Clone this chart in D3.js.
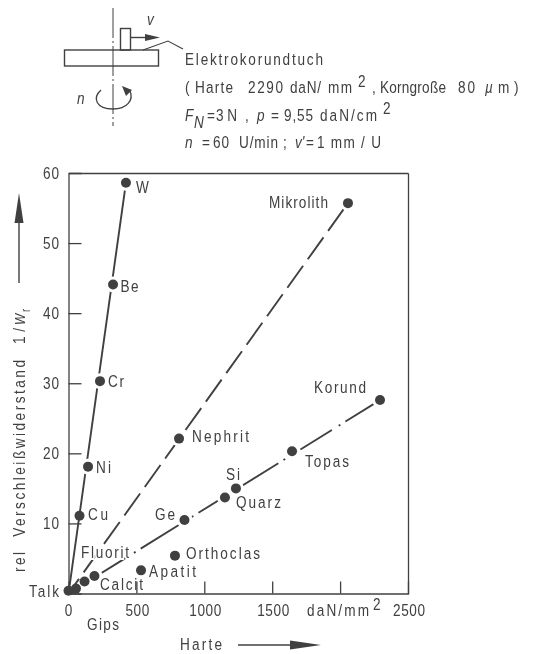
<!DOCTYPE html>
<html><head><meta charset="utf-8">
<script src="https://cdnjs.cloudflare.com/ajax/libs/d3/7.8.5/d3.min.js"></script>
<style>
html,body{margin:0;background:#fff}
svg{display:block}
text{font-family:"Liberation Sans",sans-serif;fill:#404040;font-size:17px}
.it{font-style:italic}
</style></head><body>
<div id="c"></div>
<script>
// Data
const metalNames = ["W","Be","Cr","Ni","Cu"];
const metalHardness = [423,328,232,144,81];
const metalResistance = [58.6,44.1,30.3,18.1,11.1];

const glassNames = ["Mikrolith","Nephrit"];
const glassHardness = [2058,814];
const glassResistance = [55.7,22.1];

const mineralNames = ["Talk","Gips","Fluorit","Calcit","Apatit","Orthoclas","Ge","Si","Quarz","Topas","Korund"];
const mineralHardness = [0,55,118,191,534,784,854,1152,1233,1646,2294];
const mineralResistance = [0.4,0.7,1.7,2.5,3.3,5.4,10.5,13.7,15,20.3,27.6];

const xTicks = [0,500,1000,1500,2000,2500];
const yTicks = [10,20,30,40,50,60];

const W = 537, H = 654, SX = 0.8;
const svg = d3.select("#c").append("svg").attr("width",W).attr("height",H);
svg.append("defs").append("filter").attr("id","soft").attr("x",0).attr("y",0).attr("width",1).attr("height",1)
  .append("feGaussianBlur").attr("stdDeviation",0.55);
const root = svg.append("g").attr("filter","url(#soft)");
root.append("rect").attr("width",W).attr("height",H).attr("fill","#fff");

const x = d3.scaleLinear().domain([0,2500]).range([68.5,408]);
const y = d3.scaleLinear().domain([0,60]).range([593.5,173]);
const ink = "#404040";

// narrow lettering: squeezed glyphs, stretched to the measured width
function label(px,py,str,width,o={}){
  const t = root.append("text")
    .attr("transform",`translate(${px},${py}) ${o.rot?`rotate(${o.rot}) `:""}scale(${SX},1)`)
    .attr("text-anchor",o.anchor||"start").text(str).attr("xml:space","preserve");
  if(width) t.attr("textLength",width/SX).attr("lengthAdjust","spacing");
  if(o.it) t.attr("class","it");
  if(o.size) t.style("font-size",o.size+"px");
  if(o.halo) t.attr("stroke","#fff").attr("stroke-width",4).attr("paint-order","stroke");
  return t;
}

// frame and axes
root.append("g").attr("transform",`translate(0,${y(0)})`)
  .call(d3.axisBottom(x).tickValues(xTicks.slice(1,-1)).tickSize(-12).tickFormat(""));
root.append("g").attr("transform",`translate(${x(0)},0)`)
  .call(d3.axisLeft(y).tickValues(yTicks.slice(0,-1)).tickSize(-13).tickFormat(""));
root.append("g").attr("transform",`translate(0,${y(60)})`).call(d3.axisTop(x).tickValues([]).tickSize(0));
root.append("g").attr("transform",`translate(${x(2500)},0)`).call(d3.axisRight(y).tickValues([]).tickSize(0));
root.selectAll(".domain,.tick line").attr("stroke",ink).attr("stroke-width",1.3);

// tick labels
xTicks.filter(d=>d!==2000).forEach(d=>label(x(d)+(d===0?0:1),616,String(d),String(d).length*8,{anchor:"middle"}));
yTicks.forEach(d=>label(59,y(d)+6,String(d),16,{anchor:"end"}));
label(307,616,"daN/mm",62);
label(373,610,"2");

// lines through the origin
const lineGen = d3.line().x(d=>x(d[0])).y(d=>y(d[1]));
const lines = [
  {p:[[0,0],[metalHardness[0],metalResistance[0]]], dash:null, off:0},
  {p:[[0,0],[glassHardness[0],glassResistance[0]]], dash:"27 8", off:9},
  {p:[[0,0],[mineralHardness[10],mineralResistance[10]]],
   dash:"0 17 51 9 2 6 51 9 2 6 94 6 2 18 37 8 2 6 41 100", off:0}
];
root.append("g").selectAll("path").data(lines).join("path")
  .attr("d",d=>lineGen(d.p)).attr("fill","none").attr("stroke",ink).attr("stroke-width",1.9)
  .attr("stroke-dasharray",d=>d.dash).attr("stroke-dashoffset",d=>d.off);

// points
const allPts = [];
metalNames.forEach((n,i)=>allPts.push({n,h:metalHardness[i],r:metalResistance[i]}));
glassNames.forEach((n,i)=>allPts.push({n,h:glassHardness[i],r:glassResistance[i]}));
mineralNames.forEach((n,i)=>allPts.push({n,h:mineralHardness[i],r:mineralResistance[i]}));

root.append("g").selectAll("circle").data(allPts.filter(d=>d.h>130)).join("circle")
  .attr("cx",d=>x(d.h)).attr("cy",d=>y(d.r)).attr("r",8).attr("fill","#fff");

// point labels: offset from the mark and measured width
const labelStyle = {W:[10,10,12],Be:[7.5,8,18],Cr:[8,6,16],Ni:[8,6,15],Cu:[8.5,4.5,20],Talk:[-39.5,6,30],Gips:[11,41,32],Fluorit:[-3.5,-24,48],
  Calcit:[5.5,14.5,43],Apatit:[8,6.5,47],Orthoclas:[11,3,74],Ge:[-29.5,0,20],Si:[1,-17,14],Quarz:[0,20,45],Topas:[13,16,44],Korund:[-66,-7,52],
  Mikrolith:[-79,5,59],Nephrit:[13,3,57]};
allPts.forEach(d=>{
  const s = labelStyle[d.n];
  label(x(d.h)+s[0],y(d.r)+s[1],d.n,d.n.length>1?s[2]:null,{halo:d.n==="Fluorit"});
});

root.append("g").selectAll("circle").data(allPts).join("circle")
  .attr("cx",d=>x(d.h)).attr("cy",d=>y(d.r)).attr("r",5).attr("fill",ink);

// axis titles and arrows
label(180,650,"Harte",42);
function arrow(x1,y1,x2,y2,l,w){
  const a=Math.atan2(y2-y1,x2-x1), c=Math.cos(a), s=Math.sin(a);
  root.append("line").attr("x1",x1).attr("y1",y1).attr("x2",x2-c*l*.5).attr("y2",y2-s*l*.5).attr("stroke",ink).attr("stroke-width",1.4);
  root.append("path").attr("fill",ink).attr("d",`M${x2},${y2}L${x2-c*l-s*w},${y2-s*l+c*w}L${x2-c*l+s*w},${y2-s*l-c*w}Z`);
}
arrow(238,645,321,645,31,4.5);
arrow(19,283,19,193,30,4.5);
label(25,572,"rel  Verschleißwiderstand",212,{rot:-90});
label(25,344,"1/",16,{rot:-90});
label(25,325,"W",null,{rot:-90,it:true,size:15});
label(30,312,"r",null,{rot:-90,size:12});

// sketch of the setup
const sk = root.append("g").attr("fill","none").attr("stroke",ink).attr("stroke-width",1.4);
sk.append("rect").attr("x",64.5).attr("y",50).attr("width",94).attr("height",16);
sk.append("rect").attr("x",120.5).attr("y",28.5).attr("width",10).attr("height",21.5);
sk.append("line").attr("x1",113).attr("y1",8).attr("x2",113).attr("y2",126).attr("stroke-width",1).attr("stroke-dasharray","30 3 2 3");
sk.append("path").attr("d","M143,50L168,41L183,49").attr("stroke-width",1.1);
sk.append("path").attr("d","M101,90C92,98 96,109 113,109C127,109 134,100 130,91").attr("stroke-width",1.3);
root.append("path").attr("fill",ink).attr("d","M122,86L132,90L126,96Z");
root.append("line").attr("x1",131).attr("y1",37.5).attr("x2",150).attr("y2",37.5).attr("stroke",ink).attr("stroke-width",1.4);
root.append("path").attr("fill",ink).attr("d","M160,37.5L145,34L145,41Z");
label(147,25,"v",null,{it:true});
label(77,104,"n",null,{it:true});

label(185,65,"Elektrokorundtuch",138);
label(185,93,"(",null);
label(195,93,"Harte",38);
label(248,93,"2290",35);
label(290,93,"daN/",31);
label(328,93,"mm",24);
label(358,87,"2");
label(372,93,",");
label(380,93,"Korngroße",66);
label(458,93,"80",17);
label(485,93,"µ",null,{it:true});
label(498,93,"m",null);
label(514,93,")",null);
label(185,121,"F",null,{it:true});
label(194,128,"N",null,{it:true});
label(207,121,"=",null);
label(216,121,"3N",21);
label(245,121,",");
label(257,121,"p",null,{it:true});
label(271,121,"=",null);
label(284,121,"9,55",29);
label(320,121,"daN/cm",57);
label(383,114,"2");
label(185,148,"n",null,{it:true});
label(202,148,"=",null);
label(213,148,"60",16);
label(239,148,"U/min",39);
label(283,148,";");
label(295,148,"v'",null,{it:true});
label(306,148,"=",null);
label(317,148,"1 mm / U",64);
</script>
</body></html>
